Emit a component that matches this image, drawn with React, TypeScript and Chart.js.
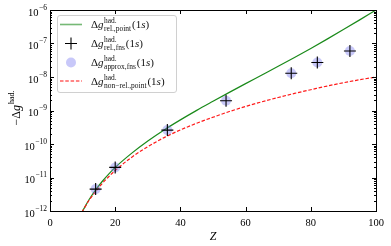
import React, { useEffect, useRef } from "react";
import { Chart, registerables } from "chart.js";

Chart.register(...registerables);

// ---- data ----
const Z_CURVE = [9, 10, 12, 14, 16, 18, 20, 25, 30, 35, 40, 45, 50, 55, 60, 65, 70, 75, 80, 85, 90, 95, 100];
const REL_POINT = [6.8e-13, 1.0e-12, 2.2e-12, 4.3e-12, 7.6e-12, 1.26e-11, 2.0e-11, 5.25e-11, 1.23e-10, 2.63e-10, 5.25e-10, 1.01e-9, 1.88e-9, 3.47e-9, 6.34e-9, 1.15e-8, 2.09e-8, 3.84e-8, 7.14e-8, 1.35e-7, 2.6e-7, 5.07e-7, 1.0e-6];
const NONREL_POINT = [6.6e-13, 1.0e-12, 2.09e-12, 3.8e-12, 6.6e-12, 1.05e-11, 1.62e-11, 3.98e-11, 8.3e-11, 1.55e-10, 2.63e-10, 4.17e-10, 6.3e-10, 9.3e-10, 1.32e-9, 1.82e-9, 2.45e-9, 3.24e-9, 4.17e-9, 5.37e-9, 6.76e-9, 8.3e-9, 1.0e-8];
const Z_POINTS = [14, 20, 36, 54, 74, 82, 92];
const REL_FNS = [4.5e-12, 2.0e-11, 2.6e-10, 1.95e-9, 1.3e-8, 2.7e-8, 6.0e-8];
const APPROX_FNS = [4.5e-12, 2.0e-11, 2.6e-10, 1.95e-9, 1.3e-8, 2.7e-8, 6.0e-8];
const X_TICKS = [0, 20, 40, 60, 80, 100];
const Y_EXPONENTS = [-12, -11, -10, -9, -8, -7, -6];

const SERIF = "'Liberation Serif', 'DejaVu Serif', serif";
const GREEN = "#1a8a1a";
const RED = "#ff1a1a";
const CIRCLE = "rgba(110,110,240,0.38)";

function font(size: number, italic?: boolean) {
  return `${italic ? "italic " : ""}${size}px ${SERIF}`;
}

// draws "Δg^{sup}_{sub}"
function drawSymbol(ctx: CanvasRenderingContext2D, x: number, y: number, sup: string, sub: string, size: number) {
  ctx.textBaseline = "alphabetic";
  ctx.textAlign = "left";
  ctx.font = font(size);
  ctx.fillText("Δ", x, y);
  x += ctx.measureText("Δ").width;
  ctx.font = font(size, true);
  ctx.fillText("g", x, y);
  x += ctx.measureText("g").width + 0.5;
  const ss = size * 0.68;
  ctx.font = font(ss);
  ctx.fillText(sup, x, y - size * 0.45);
  const w1 = ctx.measureText(sup).width;
  let w2 = 0;
  if (sub) {
    ctx.fillText(sub, x, y + size * 0.3);
    w2 = ctx.measureText(sub).width;
  }
  x += Math.max(w1, w2) + 1;
  return x;
}

const decorations = {
  id: "decorations",
  afterDraw(chart: any) {
    const { ctx, chartArea } = chart;
    const { left, right, top, bottom } = chartArea;
    const xs = chart.scales.x;
    const ys = chart.scales.y;
    ctx.save();
    ctx.strokeStyle = "#000";
    ctx.fillStyle = "#000";
    ctx.lineWidth = 1;
    // frame
    ctx.strokeRect(Math.round(left) + 0.5, Math.round(top) + 0.5, Math.round(right - left), Math.round(bottom - top));
    // x ticks
    ctx.beginPath();
    for (const v of X_TICKS) {
      const px = Math.round(xs.getPixelForValue(v)) + 0.5;
      ctx.moveTo(px, bottom);
      ctx.lineTo(px, bottom - 4);
      ctx.moveTo(px, top);
      ctx.lineTo(px, top + 4);
    }
    // y ticks
    for (let e = -12; e <= -6; e++) {
      const py = Math.round(ys.getPixelForValue(Math.pow(10, e))) + 0.5;
      ctx.moveTo(left, py);
      ctx.lineTo(left + 4, py);
      ctx.moveTo(right, py);
      ctx.lineTo(right - 4, py);
      if (e < -6) {
        for (let m = 2; m <= 9; m++) {
          const pm = Math.round(ys.getPixelForValue(m * Math.pow(10, e))) + 0.5;
          ctx.moveTo(left, pm);
          ctx.lineTo(left + 2, pm);
          ctx.moveTo(right, pm);
          ctx.lineTo(right - 2, pm);
        }
      }
    }
    ctx.stroke();

    // x tick labels
    ctx.font = font(10.5);
    ctx.textAlign = "center";
    ctx.textBaseline = "alphabetic";
    for (const v of X_TICKS) {
      ctx.fillText(String(v), xs.getPixelForValue(v), bottom + 15);
    }
    // y tick labels
    for (const e of Y_EXPONENTS) {
      const py = ys.getPixelForValue(Math.pow(10, e));
      const exp = "−" + String(-e);
      ctx.font = font(7.5);
      const we = ctx.measureText(exp).width;
      ctx.font = font(10.5);
      const wb = ctx.measureText("10").width;
      const xr = left - 3;
      ctx.textAlign = "left";
      ctx.fillText("10", xr - we - wb - 0.5, py + 5.5);
      ctx.font = font(7.5);
      ctx.fillText(exp, xr - we, py - 0.5);
    }
    // x title
    ctx.font = font(12, true);
    ctx.textAlign = "center";
    ctx.fillText("Z", (left + right) / 2, bottom + 29);
    // y title
    ctx.save();
    ctx.translate(19.5, 108);
    ctx.rotate(-Math.PI / 2);
    ctx.font = font(12);
    const t1 = "−Δ";
    const wt1 = ctx.measureText(t1).width;
    ctx.font = font(12, true);
    const wt2 = ctx.measureText("g").width;
    ctx.font = font(8);
    const wt3 = ctx.measureText("had.").width;
    let sx = -(wt1 + wt2 + wt3 + 1) / 2;
    ctx.textAlign = "left";
    ctx.font = font(12);
    ctx.fillText(t1, sx, 0);
    sx += wt1;
    ctx.font = font(12, true);
    ctx.fillText("g", sx, 0);
    sx += wt2 + 1;
    ctx.font = font(8);
    ctx.fillText("had.", sx, -5.5);
    ctx.restore();

    // legend
    const lx = 57.5, ly = 15.5, lw = 119, lh = 77;
    ctx.beginPath();
    const r = 2.5;
    ctx.moveTo(lx + r, ly);
    ctx.lineTo(lx + lw - r, ly);
    ctx.quadraticCurveTo(lx + lw, ly, lx + lw, ly + r);
    ctx.lineTo(lx + lw, ly + lh - r);
    ctx.quadraticCurveTo(lx + lw, ly + lh, lx + lw - r, ly + lh);
    ctx.lineTo(lx + r, ly + lh);
    ctx.quadraticCurveTo(lx, ly + lh, lx, ly + lh - r);
    ctx.lineTo(lx, ly + r);
    ctx.quadraticCurveTo(lx, ly, lx + r, ly);
    ctx.closePath();
    ctx.fillStyle = "rgba(255,255,255,0.8)";
    ctx.fill();
    ctx.strokeStyle = "#d0d0d0";
    ctx.lineWidth = 1;
    ctx.stroke();

    const rows = [24.5, 43.5, 62.5, 81];
    const sx0 = 60, sx1 = 82, scx = 71;
    // row 1 green line
    ctx.strokeStyle = "rgba(26,138,26,0.6)";
    ctx.lineWidth = 1.6;
    ctx.beginPath();
    ctx.moveTo(sx0, rows[0]);
    ctx.lineTo(sx1, rows[0]);
    ctx.stroke();
    // row 2 plus
    ctx.strokeStyle = "#000";
    ctx.lineWidth = 1.1;
    ctx.beginPath();
    ctx.moveTo(scx - 6, rows[1]);
    ctx.lineTo(scx + 6, rows[1]);
    ctx.moveTo(scx, rows[1] - 6);
    ctx.lineTo(scx, rows[1] + 6);
    ctx.stroke();
    // row 3 circle
    ctx.fillStyle = CIRCLE;
    ctx.beginPath();
    ctx.arc(scx, rows[2], 5, 0, Math.PI * 2);
    ctx.fill();
    // row 4 red dashed
    ctx.strokeStyle = "rgba(255,26,26,0.7)";
    ctx.lineWidth = 1.3;
    ctx.setLineDash([3.5, 1.8]);
    ctx.beginPath();
    ctx.moveTo(sx0, rows[3]);
    ctx.lineTo(sx1, rows[3]);
    ctx.stroke();
    ctx.setLineDash([]);

    ctx.fillStyle = "#111";
    const labels: [string, string][] = [
      ["had.", "rel.,point"],
      ["had.", "rel.,fns"],
      ["had.", "approx,fns"],
      ["had.", "non−rel.,point"],
    ];
    labels.forEach(([sup, sub], i) => {
      const y = rows[i] + 3.5;
      let x = drawSymbol(ctx, 91, y, sup, sub, 11);
      ctx.font = font(11);
      ctx.fillText("(1", x, y);
      x += ctx.measureText("(1").width;
      ctx.font = font(11, true);
      ctx.fillText("s", x, y);
      x += ctx.measureText("s").width;
      ctx.font = font(11);
      ctx.fillText(")", x, y);
    });
    ctx.restore();
  },
};

export default function App() {
  const ref = useRef<HTMLCanvasElement | null>(null);
  useEffect(() => {
    document.body.style.margin = "0";
    const canvas = ref.current!;
    const chart = new Chart(canvas, {
      type: "line",
      data: {
        datasets: [
          {
            label: "rel point",
            data: Z_CURVE.map((z, i) => ({ x: z, y: REL_POINT[i] })),
            borderColor: GREEN,
            borderWidth: 1.2,
            pointRadius: 0,
            cubicInterpolationMode: "monotone",
            order: 3,
          },
          {
            label: "non-rel point",
            data: Z_CURVE.map((z, i) => ({ x: z, y: NONREL_POINT[i] })),
            borderColor: RED,
            borderWidth: 1.2,
            borderDash: [3.5, 1.8],
            pointRadius: 0,
            cubicInterpolationMode: "monotone",
            order: 2,
          },
          {
            label: "approx fns",
            data: Z_POINTS.map((z, i) => ({ x: z, y: APPROX_FNS[i] })),
            showLine: false,
            pointStyle: "circle",
            pointRadius: 5,
            backgroundColor: CIRCLE,
            borderWidth: 0,
            order: 1,
          },
          {
            label: "rel fns",
            data: Z_POINTS.map((z, i) => ({ x: z, y: REL_FNS[i] })),
            showLine: false,
            pointStyle: "cross",
            pointRadius: 6,
            borderColor: "#000",
            borderWidth: 1.1,
            order: 0,
          },
        ],
      },
      options: {
        responsive: false,
        animation: false,
        events: [],
        layout: { padding: { left: 0, top: 10, right: 15, bottom: 0 } },
        plugins: { legend: { display: false }, tooltip: { enabled: false } },
        scales: {
          x: {
            type: "linear",
            min: 0,
            max: 100,
            grid: { display: false, drawTicks: false },
            border: { display: false },
            ticks: { display: false },
            afterFit: (s: any) => { s.height = 35; },
          },
          y: {
            type: "logarithmic",
            min: 1e-12,
            max: 1e-6,
            grid: { display: false, drawTicks: false },
            border: { display: false },
            ticks: { display: false },
            afterFit: (s: any) => { s.width = 50; },
          },
        },
      },
      plugins: [decorations],
    } as any);
    return () => chart.destroy();
  }, []);
  return <canvas ref={ref} width={391} height={246} style={{ display: "block" }} />;
}
